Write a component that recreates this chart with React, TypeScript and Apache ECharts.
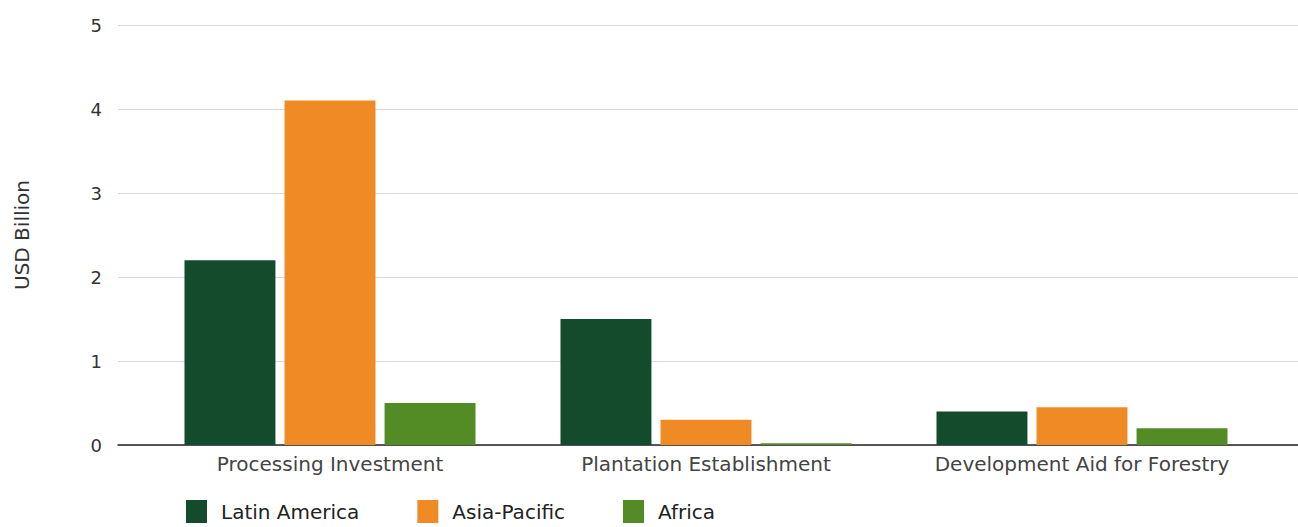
import React, { useEffect, useRef } from "react";
import * as echarts from "echarts";

const categories = ["Processing Investment", "Plantation Establishment", "Development Aid for Forestry"];
const latinAmerica = [2.2, 1.5, 0.4];
const asiaPacific = [4.1, 0.3, 0.45];
const africa = [0.5, 0.02, 0.2];
const seriesNames = ["Latin America", "Asia-Pacific", "Africa"];
const yTicks = { min: 0, max: 5, interval: 1 };

const FONT = "'DejaVu Sans', Verdana, sans-serif";

export default function App() {
  const ref = useRef<HTMLDivElement>(null);
  useEffect(() => {
    const chart = echarts.init(ref.current!, undefined, { renderer: "svg" });
    const barCommon = {
      type: "bar" as const,
      xAxisIndex: 1,
      yAxisIndex: 1,
      barGap: "10%",
      barCategoryGap: "22.6%",
    };
    chart.setOption({
      animation: false,
      backgroundColor: "#ffffff",
      textStyle: { fontFamily: FONT },
      grid: [
        { left: 118, right: 0, top: 25, bottom: 82 },
        { left: 142, right: 28, top: 25, bottom: 82 },
      ],
      xAxis: [
        {
          type: "value",
          gridIndex: 0,
          min: 0,
          max: 1,
          axisLine: { show: true, onZero: false, lineStyle: { color: "#222", width: 1.5 } },
          axisTick: { show: false },
          axisLabel: { show: false },
          splitLine: { show: false },
        },
        {
          type: "category",
          gridIndex: 1,
          data: categories,
          axisLine: { show: false },
          axisTick: { show: false },
          axisLabel: {
            interval: 0,
            hideOverlap: false,
            fontSize: 20,
            color: "#444",
            margin: 9,
            fontFamily: FONT,
          },
        },
      ],
      yAxis: [
        {
          type: "value",
          gridIndex: 0,
          min: yTicks.min,
          max: yTicks.max,
          interval: yTicks.interval,
          axisLine: { show: false },
          axisTick: { show: false },
          axisLabel: { fontSize: 18, color: "#333", margin: 16, fontFamily: FONT },
          splitLine: { lineStyle: { color: "#d9d9d9", width: 1 } },
          name: "USD Billion",
          nameLocation: "middle",
          nameGap: 86,
          nameTextStyle: { fontSize: 20, color: "#333", fontFamily: FONT },
        },
        {
          type: "value",
          gridIndex: 1,
          min: yTicks.min,
          max: yTicks.max,
          interval: yTicks.interval,
          show: false,
          splitLine: { show: false },
        },
      ],
      legend: {
        left: 186,
        top: 500,
        padding: 0,
        itemWidth: 21,
        itemHeight: 23,
        itemGap: 58,
        icon: "rect",
        textStyle: { fontSize: 20, color: "#222", fontFamily: FONT, padding: [0, 0, 0, 9] },
        data: seriesNames,
      },
      series: [
        { ...barCommon, name: seriesNames[0], data: latinAmerica, itemStyle: { color: "#144b2d" } },
        { ...barCommon, name: seriesNames[1], data: asiaPacific, itemStyle: { color: "#f08a25" } },
        { ...barCommon, name: seriesNames[2], data: africa, itemStyle: { color: "#538b24" } },
      ],
    });
    return () => chart.dispose();
  }, []);
  return (
    <div
      ref={ref}
      style={{ position: "fixed", left: 0, top: 0, width: 1298, height: 527, background: "#fff" }}
    />
  );
}
